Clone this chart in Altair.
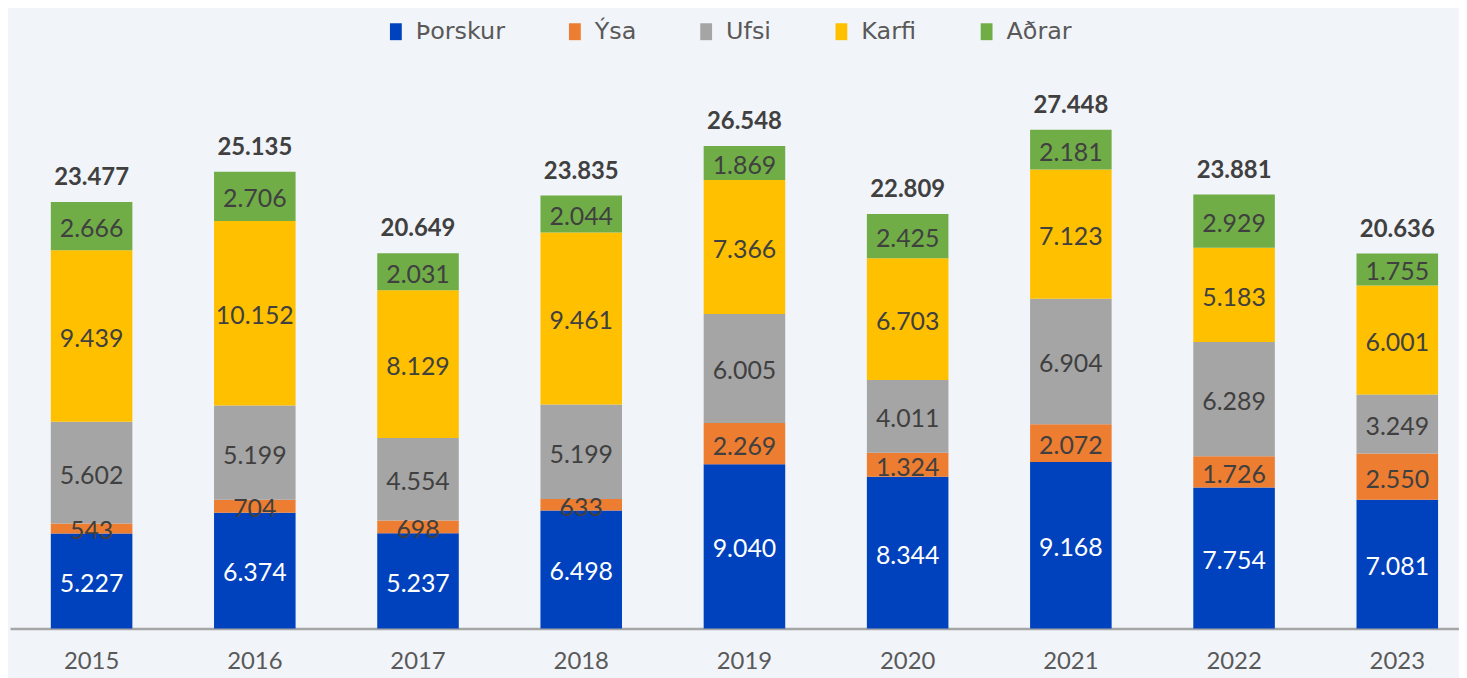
import altair as alt
import pandas as pd

years = ["2015", "2016", "2017", "2018", "2019", "2020", "2021", "2022", "2023"]
series = ["Þorskur", "Ýsa", "Ufsi", "Karfi", "Aðrar"]
colors = ["#0041BD", "#ED7D31", "#A5A5A5", "#FFC000", "#70AD47"]
thorskur = [5227, 6374, 5237, 6498, 9040, 8344, 9168, 7754, 7081]
ysa = [543, 704, 698, 633, 2269, 1324, 2072, 1726, 2550]
ufsi = [5602, 5199, 4554, 5199, 6005, 4011, 6904, 6289, 3249]
karfi = [9439, 10152, 8129, 9461, 7366, 6703, 7123, 5183, 6001]
adrar = [2666, 2706, 2031, 2044, 1869, 2425, 2181, 2929, 1755]
total_values = [23477, 25135, 20649, 23835, 26548, 22809, 27448, 23881, 20636]

values = [thorskur, ysa, ufsi, karfi, adrar]


def fmt(v):
    return f"{v:,}".replace(",", ".")


rows = []
totals = []
for i, y in enumerate(years):
    base = 0
    for s, vals in zip(series, values):
        v = vals[i]
        rows.append({"year": y, "series": s, "start": base, "end": base + v,
                     "mid": base + v / 2, "label": fmt(v),
                     "white": s == "Þorskur"})
        base += v
    totals.append({"year": y, "top": base, "label": fmt(total_values[i])})

df = pd.DataFrame(rows)
tdf = pd.DataFrame(totals)

FONT = "Lato"
xscale = alt.Scale(domain=years, range=[2, 1479], paddingInner=0.5, paddingOuter=0.25)
yscale = alt.Scale(domain=[0, 30000])

xenc = alt.X("year:N", scale=xscale, sort=years,
             axis=alt.Axis(title=None, labelAngle=0, ticks=False, domainColor="#A6A6A6",
                           domainWidth=2.5, labelFontSize=24, labelColor="#595959",
                           labelFont=FONT, labelPadding=21))

bars = alt.Chart(df).mark_bar(size=82).encode(
    x=xenc,
    y=alt.Y("start:Q", scale=yscale, axis=None),
    y2="end:Q",
    color=alt.Color("series:N", scale=alt.Scale(domain=series, range=colors),
                    legend=alt.Legend(title=None, orient="none", direction="horizontal",
                                      legendX=378, legendY=-64,
                                      symbolType="M-0.7,-1H0.7V1H-0.7Z",
                                      symbolSize=289, symbolStrokeWidth=0,
                                      labelFontSize=24, labelFont="DejaVu Sans",
                                      labelColor="#595959", columnPadding=58,
                                      labelOffset=8, columns=5)),
)

labels = alt.Chart(df).mark_text(fontSize=25, font=FONT, baseline="middle", dy=3).encode(
    x=alt.X("year:N", scale=xscale, sort=years),
    y=alt.Y("mid:Q", scale=yscale),
    text="label:N",
    color=alt.condition("datum.white", alt.value("#FFFFFF"), alt.value("#404040")),
)

tot = alt.Chart(tdf).mark_text(fontSize=24, font=FONT, fontWeight="bold",
                               baseline="middle", dy=-24, color="#404040").encode(
    x=alt.X("year:N", scale=xscale, sort=years),
    y=alt.Y("top:Q", scale=yscale),
    text="label:N",
)

chart = alt.layer(bars, labels, tot).properties(
    width=1459, height=548,
    autosize=alt.AutoSizeParams(type="none"),
    padding={"left": 0, "top": 74, "right": 0, "bottom": 48},
    background="#F1F4F8",
).configure_view(stroke=None)

chart.save("out.html", embed_options={"renderer": "svg", "actions": False})
